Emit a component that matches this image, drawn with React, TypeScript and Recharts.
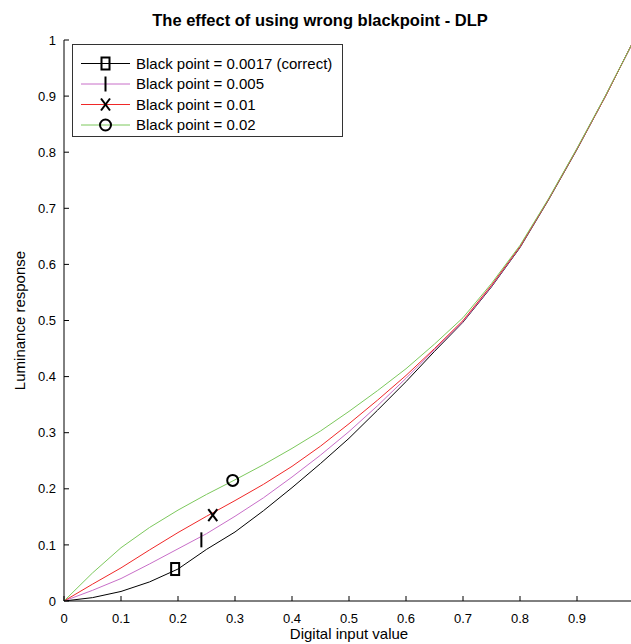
import React from 'react';
import { ComposedChart, Line, Scatter, XAxis, YAxis } from 'recharts';

const inputValues = [0, 0.05, 0.1, 0.15, 0.2, 0.25, 0.3, 0.35, 0.4, 0.45, 0.5, 0.55, 0.6, 0.65, 0.7, 0.75, 0.8, 0.85, 0.9, 0.95, 1];
const lumCorrect = [0, 0.006, 0.017, 0.034, 0.057, 0.092, 0.123, 0.161, 0.202, 0.245, 0.29, 0.34, 0.391, 0.445, 0.497, 0.56, 0.63, 0.715, 0.805, 0.9, 1];
const lum005 = [0, 0.019, 0.04, 0.066, 0.093, 0.12, 0.151, 0.184, 0.221, 0.26, 0.302, 0.348, 0.397, 0.448, 0.498, 0.561, 0.631, 0.716, 0.806, 0.9, 1];
const lum01 = [0, 0.03, 0.059, 0.091, 0.122, 0.151, 0.179, 0.208, 0.24, 0.276, 0.316, 0.358, 0.402, 0.45, 0.5, 0.563, 0.632, 0.716, 0.806, 0.9, 1];
const lum02 = [0, 0.05, 0.095, 0.131, 0.162, 0.19, 0.216, 0.243, 0.272, 0.303, 0.338, 0.375, 0.414, 0.458, 0.505, 0.566, 0.634, 0.717, 0.807, 0.901, 1];

const seriesNames = ['Black point = 0.0017 (correct)', 'Black point = 0.005', 'Black point = 0.01', 'Black point = 0.02'];
const seriesColors = ['#000000', '#c86ec8', '#f02828', '#7cc85c'];
const markerKinds = ['square', 'vbar', 'cross', 'circle'];
const markerX = [0.195, 0.241, 0.261, 0.296];
const markerY = [0.057, 0.109, 0.153, 0.215];

const xTicks = [0, 0.1, 0.2, 0.3, 0.4, 0.5, 0.6, 0.7, 0.8, 0.9];
const yTicks = [0, 0.1, 0.2, 0.3, 0.4, 0.5, 0.6, 0.7, 0.8, 0.9, 1];

const allSeries = [lumCorrect, lum005, lum01, lum02];

const FONT = '"Liberation Sans", Arial, sans-serif';

function drawMarker(kind: string, cx: number, cy: number) {
  const s = { stroke: '#000', strokeWidth: 2, fill: 'none' } as any;
  if (kind === 'square') return <rect x={cx - 4} y={cy - 6} width={8} height={12} {...s} />;
  if (kind === 'vbar') return <line x1={cx} x2={cx} y1={cy - 7.5} y2={cy + 7.5} {...s} />;
  if (kind === 'cross')
    return (
      <g>
        <line x1={cx - 4.5} y1={cy - 6} x2={cx + 4.5} y2={cy + 6} {...s} />
        <line x1={cx + 4.5} y1={cy - 6} x2={cx - 4.5} y2={cy + 6} {...s} />
      </g>
    );
  return <circle cx={cx} cy={cy} r={5.5} {...s} />;
}

const makeShape = (kind: string) => (props: any) => {
  const { cx, cy } = props;
  if (cx == null || cy == null) return <g />;
  return drawMarker(kind, cx, cy);
};

const YTick = (props: any) => {
  const { x, y, payload } = props;
  return (
    <g>
      <line x1={x} x2={x + 5} y1={y} y2={y} stroke="#000" strokeWidth={1} />
      <text x={x - 8} y={y} dy="0.36em" textAnchor="end" fontSize={13} fontFamily={FONT} fill="#000">
        {String(payload.value)}
      </text>
    </g>
  );
};

const XTick = (props: any) => {
  const { x, y, payload } = props;
  return (
    <g>
      <line x1={x} x2={x} y1={y} y2={y - 5} stroke="#000" strokeWidth={1} />
      <text x={x} y={y + 22} textAnchor="middle" fontSize={13} fontFamily={FONT} fill="#000">
        {String(payload.value)}
      </text>
    </g>
  );
};

const YLabel = (props: any) => {
  const vb = props.viewBox || {};
  const cx = (vb.x || 0) + 20;
  const cy = (vb.y || 0) + (vb.height || 0) / 2;
  return (
    <text x={cx} y={cy} transform={`rotate(-90, ${cx}, ${cy})`} textAnchor="middle" dy="0.36em" fontSize={15} fontFamily={FONT} fill="#000">
      Luminance response
    </text>
  );
};

const XLabel = (props: any) => {
  const vb = props.viewBox || {};
  const cx = 349;
  const cy = (vb.y || 0) + 38;
  return (
    <text x={cx} y={cy} textAnchor="middle" fontSize={15} fontFamily={FONT} fill="#000">
      Digital input value
    </text>
  );
};

function LegendBox() {
  const rowY = [19.5, 40, 60.5, 81];
  return (
    <div style={{ position: 'absolute', left: 72, top: 44, width: 271, height: 93, border: '1px solid #333', background: '#fff', boxSizing: 'border-box' }}>
      <svg width={271} height={93} style={{ position: 'absolute', left: -1, top: -1 }}>
        {seriesNames.map((name, i) => (
          <g key={name}>
            <line x1={9} x2={58} y1={rowY[i]} y2={rowY[i]} stroke={seriesColors[i]} strokeWidth={1} />
            {drawMarker(markerKinds[i], 33.5, rowY[i])}
            <text x={64} y={rowY[i]} dy="0.36em" fontSize={15} fontFamily={FONT} fill="#000">
              {name}
            </text>
          </g>
        ))}
      </svg>
    </div>
  );
}

export default function App() {
  return (
    <div style={{ position: 'absolute', left: 0, top: 0, width: 631, height: 644, overflow: 'hidden', background: '#fff' }}>
      <div style={{ position: 'absolute', left: 0, top: 10, width: 640, fontFamily: FONT, fontWeight: 'bold', fontSize: 16.5, lineHeight: '20px' }}>
        <span style={{ position: 'absolute', left: 320, transform: 'translateX(-50%)', whiteSpace: 'nowrap' }}>
          The effect of using wrong blackpoint - DLP
        </span>
      </div>
      <ComposedChart width={640} height={644} margin={{ top: 40, right: 6, bottom: 0, left: 0 }}>
        <XAxis
          type="number"
          dataKey="x"
          domain={[0, 1]}
          ticks={xTicks}
          tick={<XTick />}
          tickSize={0}
          tickMargin={0}
          height={43}
          axisLine={{ stroke: '#000', strokeWidth: 1 }}
          tickLine={false}
          allowDataOverflow
          label={<XLabel />}
        />
        <YAxis
          type="number"
          dataKey="y"
          domain={[0, 1]}
          ticks={yTicks}
          tick={<YTick />}
          tickSize={0}
          tickMargin={0}
          width={64}
          axisLine={{ stroke: '#000', strokeWidth: 1 }}
          tickLine={false}
          allowDataOverflow
          label={<YLabel />}
        />
        {allSeries.map((vals, i) => (
          <Line
            key={seriesNames[i]}
            data={inputValues.map((x, j) => ({ x, y: vals[j] }))}
            dataKey="y"
            type="linear"
            stroke={seriesColors[i]}
            strokeWidth={1}
            dot={false}
            activeDot={false}
            isAnimationActive={false}
            name={seriesNames[i]}
          />
        ))}
        {markerKinds.map((kind, i) => (
          <Scatter
            key={kind}
            data={[{ x: markerX[i], y: markerY[i] }]}
            dataKey="y"
            shape={makeShape(kind)}
            isAnimationActive={false}
            legendType="none"
          />
        ))}
      </ComposedChart>
      <LegendBox />
    </div>
  );
}
